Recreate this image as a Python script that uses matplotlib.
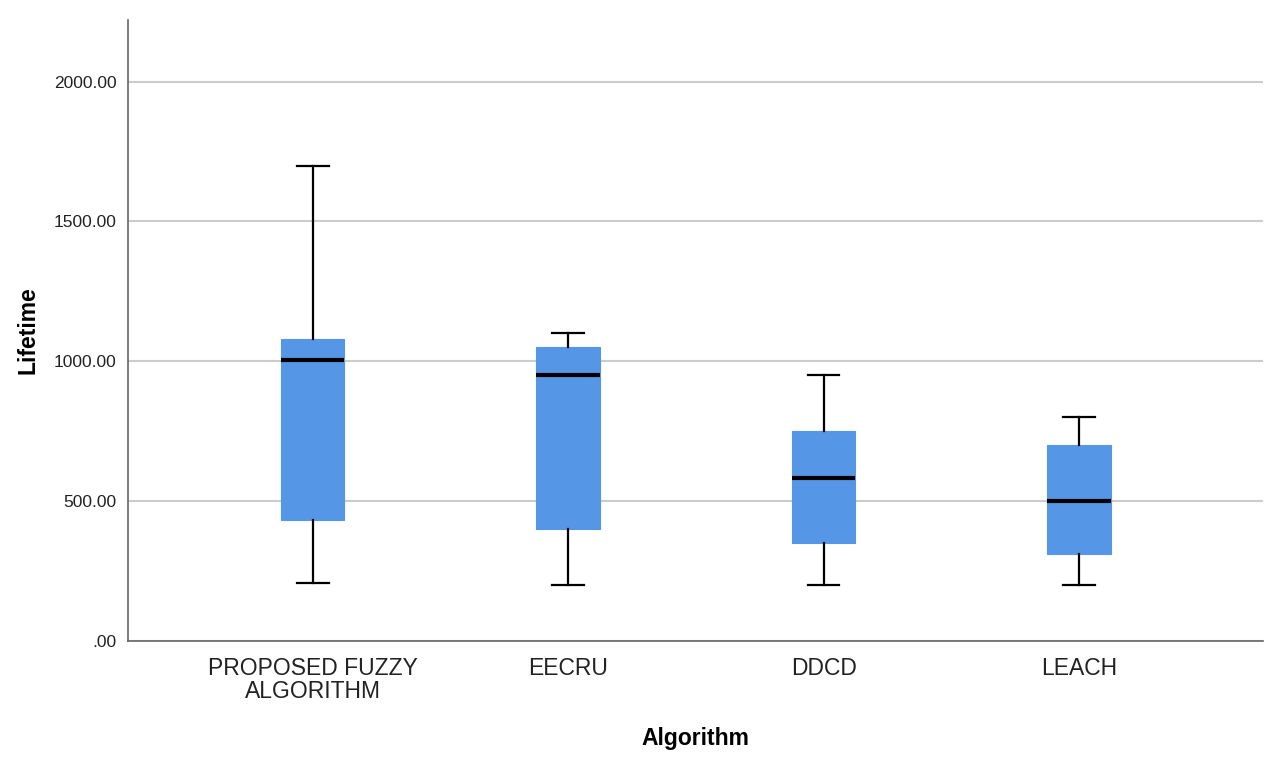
import matplotlib
matplotlib.use("Agg")
import matplotlib.pyplot as plt

categories = ["PROPOSED FUZZY\nALGORITHM", "EECRU", "DDCD", "LEACH"]
whisker_low = [205, 200, 200, 200]
q1 = [430, 400, 350, 310]
median = [1005, 950, 580, 500]
q3 = [1080, 1050, 750, 700]
whisker_high = [1700, 1100, 950, 800]
yticks = [0, 500, 1000, 1500, 2000]
ytick_labels = [".00", "500.00", "1000.00", "1500.00", "2000.00"]

plt.rcParams['font.family'] = ['Liberation Sans', 'DejaVu Sans']

fig = plt.figure(figsize=(12.76, 7.64), dpi=100)
ax = fig.add_axes([0.1001, 0.1616, 0.8897, 0.8122])

stats = []
for i in range(len(categories)):
    stats.append(dict(whislo=whisker_low[i], q1=q1[i], med=median[i],
                      q3=q3[i], whishi=whisker_high[i], fliers=[], label=categories[i]))

ax.bxp(stats, positions=range(len(categories)), widths=0.248, patch_artist=True,
       showfliers=False,
       boxprops=dict(facecolor="#5596e6", edgecolor="#5596e6", linewidth=0.8),
       medianprops=dict(color="black", linewidth=3),
       whiskerprops=dict(color="black", linewidth=1.6),
       capprops=dict(color="black", linewidth=1.6),
       capwidths=0.124, zorder=3)

ax.set_xlim(-0.724, 3.72)
ax.set_ylim(0, 2221)
ax.set_yticks(yticks)
ax.set_yticklabels(ytick_labels, fontsize=12.5, color="#222222")
ax.tick_params(axis='y', length=0, pad=8)
ax.tick_params(axis='x', length=0, pad=12, labelsize=16.5, labelcolor="#222222")
for lbl in ax.get_xticklabels():
    lbl.set_linespacing(1.0)

ax.yaxis.grid(True, color="#cccccc", linewidth=1.5, zorder=0)
ax.set_axisbelow(True)
for s in ["top", "right"]:
    ax.spines[s].set_visible(False)
for s in ["left", "bottom"]:
    ax.spines[s].set_color("#666666")
    ax.spines[s].set_linewidth(1.2)

ax.set_xlabel("Algorithm", fontsize=16.5, fontweight="bold", labelpad=17)
ax.set_ylabel("Lifetime", fontsize=16.5, fontweight="bold", labelpad=10)

fig.savefig("out.png", dpi=100)
